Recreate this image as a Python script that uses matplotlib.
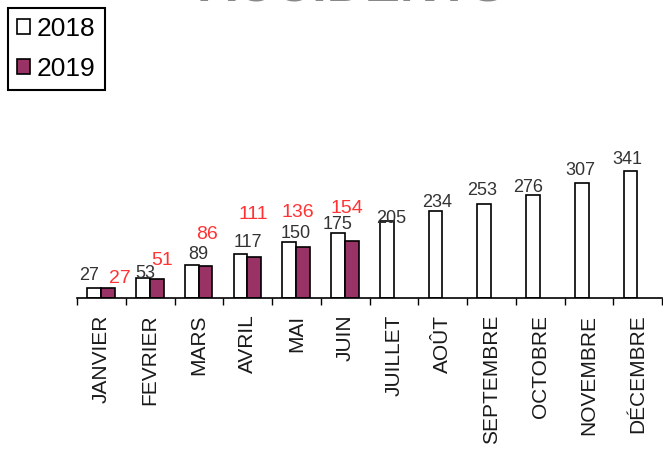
import matplotlib.pyplot as plt
import numpy as np
from matplotlib.patches import Patch

plt.rcParams['font.family'] = ['Liberation Sans', 'DejaVu Sans']

months = ['JANVIER', 'FEVRIER', 'MARS', 'AVRIL', 'MAI', 'JUIN', 'JUILLET',
          'AOÛT', 'SEPTEMBRE', 'OCTOBRE', 'NOVEMBRE', 'DÉCEMBRE']
values_2018 = [27, 53, 89, 117, 150, 175, 205, 234, 253, 276, 307, 341]
values_2019 = [27, 51, 86, 111, 136, 154]

# label offsets in points (hand placed like in the original sheet)
dx_2018 = [-4, 1.5, 5, 5, 4.5, 0, 3, 1, -1.5, -3.5, -1, -2]
dy_2018 = [6, 0.5, 4, 5, 3, 2.5, -1, 2.5, 6, 2, 6, 4.5]
dx_2019 = [8.5, 4, 1, -1, -3.5, -3.5]
dy_2019 = [3.5, 10, 19.5, 27, 22, 20]

W, H = 663, 455
fig = plt.figure(figsize=(W / 100, H / 100), dpi=100)
ax = fig.add_axes([77 / W, (H - 298) / H, 585 / W, 168 / H])

x = np.arange(len(months))
x19 = np.arange(len(values_2019))
width = 0.28
ax.bar(x - 0.145, values_2018, width, color='white', edgecolor='black', linewidth=1.2)
ax.bar(x19 + 0.135, values_2019, width, color='#993366', edgecolor='black', linewidth=1.2)

for i, v in enumerate(values_2018):
    ax.annotate(str(v), (i - 0.145, v), xytext=(dx_2018[i], dy_2018[i]),
                textcoords='offset points', ha='center', va='baseline',
                fontsize=13, color='#333333')
for i, v in enumerate(values_2019):
    ax.annotate(str(v), (i + 0.135, v), xytext=(dx_2019[i], dy_2019[i]),
                textcoords='offset points', ha='center', va='baseline',
                fontsize=14, color='#ff3333')

ax.set_xlim(-0.5, len(months) - 0.5)
ax.set_ylim(0, 450)
ax.set_xticks(x)
ax.set_xticklabels(months, rotation=90, fontsize=15, color='#1a1a1a')
ax.tick_params(axis='x', which='major', length=0, pad=12)
ax.set_xticks(np.arange(len(months) + 1) - 0.5, minor=True)
ax.tick_params(axis='x', which='minor', length=5, width=1, direction='out')
ax.set_yticks([])
for s in ['left', 'right', 'top']:
    ax.spines[s].set_visible(False)
ax.spines['bottom'].set_linewidth(1.2)

handles = [Patch(facecolor='white', edgecolor='black', linewidth=1.2),
           Patch(facecolor='#993366', edgecolor='black', linewidth=1.2)]
leg = fig.legend(handles, ['2018', '2019'], loc='upper left',
                 bbox_to_anchor=(8 / W, 1 - 8 / H), borderaxespad=0,
                 fontsize=19, handlelength=0.5, handleheight=0.5,
                 handletextpad=0.25, labelspacing=0.6, borderpad=0.35,
                 fancybox=False, framealpha=1)
leg.get_frame().set_edgecolor('black')
leg.get_frame().set_linewidth(1.5)

# title is cut off at the top of the picture, only its bottom edge shows
fig.text(352 / W, 1 + 38 / H, 'ACCIDENTS', ha='center', va='top',
         fontsize=38, fontweight='bold', color='#888888')

fig.savefig('out.png', dpi=100)
